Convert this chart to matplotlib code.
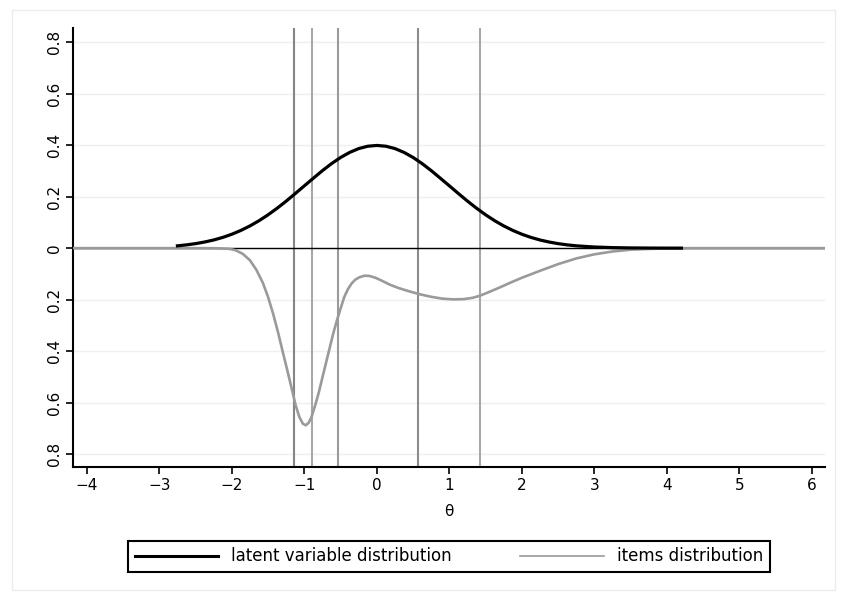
import matplotlib.pyplot as plt
from matplotlib.lines import Line2D
from matplotlib.patches import Rectangle

plt.rcParams['font.family'] = ['DejaVu Sans']

# latent variable density (standard normal shape)
latent_x = [-2.75, -2.625, -2.5, -2.375, -2.25, -2.125, -2.0, -1.875, -1.75, -1.625, -1.5,
            -1.375, -1.25, -1.125, -1.0, -0.875, -0.75, -0.625, -0.5, -0.375, -0.25, -0.125,
            0.0, 0.125, 0.25, 0.375, 0.5, 0.625, 0.75, 0.875, 1.0, 1.125, 1.25, 1.375, 1.5,
            1.625, 1.75, 1.875, 2.0, 2.125, 2.25, 2.375, 2.5, 2.625, 2.75, 3.0, 3.25, 3.5,
            3.75, 4.0, 4.2]
latent_y = [0.009, 0.0127, 0.0175, 0.0238, 0.0317, 0.0417, 0.054, 0.0688, 0.0863, 0.1065, 0.1295,
            0.155, 0.1826, 0.212, 0.242, 0.2717, 0.3011, 0.3282, 0.3521, 0.3718, 0.3867, 0.3958,
            0.3989, 0.3958, 0.3867, 0.3718, 0.3521, 0.3282, 0.3011, 0.2717, 0.242, 0.212, 0.1826,
            0.155, 0.1295, 0.1065, 0.0863, 0.0688, 0.054, 0.0417, 0.0317, 0.0238, 0.0175, 0.0127,
            0.009, 0.0044, 0.002, 0.0009, 0.0004, 0.0001, 0.0]

# items distribution, plotted downwards
items_x = [-4.2, -2.5, -2.2, -2.03, -1.95, -1.85, -1.75, -1.66, -1.57, -1.5, -1.43, -1.36,
           -1.3, -1.23, -1.17, -1.12, -1.07, -1.02, -0.98, -0.94, -0.9, -0.85, -0.8, -0.74,
           -0.67, -0.6, -0.55, -0.5, -0.45, -0.4, -0.35, -0.3, -0.24, -0.17, -0.1, -0.02,
           0.08, 0.18, 0.3, 0.45, 0.59, 0.75, 0.9, 1.05, 1.2, 1.32, 1.42, 1.55, 1.7, 1.85,
           2.0, 2.25, 2.5, 2.75, 3.0, 3.25, 3.5, 3.75, 4.0, 4.3, 6.2]
items_y = [0.0, 0.0, -0.0005, -0.003, -0.008, -0.022, -0.047, -0.085, -0.136, -0.19, -0.255, -0.33,
           -0.4, -0.48, -0.55, -0.61, -0.655, -0.682, -0.688, -0.678, -0.655, -0.61, -0.56, -0.49,
           -0.41, -0.33, -0.28, -0.235, -0.19, -0.16, -0.138, -0.123, -0.113, -0.107, -0.108, -0.115,
           -0.128, -0.142, -0.155, -0.168, -0.179, -0.189, -0.196, -0.199, -0.198, -0.193, -0.185,
           -0.17, -0.152, -0.133, -0.115, -0.088, -0.062, -0.04, -0.024, -0.013, -0.006, -0.003,
           -0.001, 0.0, 0.0]

# item thresholds
cut_x = [-1.145, -0.9, -0.54, 0.566, 1.42]
cut_colors = ['#858585', '#a8a8a8', '#9a9a9a', '#8c8c8c', '#a8a8a8']

y_ticks = [-0.8, -0.6, -0.4, -0.2, 0.0, 0.2, 0.4, 0.6, 0.8]
y_labels = ['0.8', '0.6', '0.4', '0.2', '0', '0.2', '0.4', '0.6', '0.8']
x_ticks = [-4, -3, -2, -1, 0, 1, 2, 3, 4, 5, 6]

fig = plt.figure(figsize=(8.43, 5.97), dpi=100)
fig.patches.append(Rectangle((12 / 843, 7 / 597), 823 / 843, 580 / 597,
                             transform=fig.transFigure, fill=False,
                             edgecolor='#ececec', linewidth=1.0))
ax = fig.add_axes([73 / 843, 1 - 467 / 597, (825 - 73) / 843, (467 - 28) / 597])

ax.set_xlim(-4.19, 6.18)
ax.set_ylim(-0.85, 0.855)

for v in y_ticks:
    ax.axhline(v, color='#efefef', linewidth=1.0, zorder=0)

for xv, c in zip(cut_x, cut_colors):
    ax.axvline(xv, color=c, linewidth=1.5, zorder=1)

ax.axhline(0, color='black', linewidth=1.0, zorder=2)
ax.plot(items_x, items_y, color='#9a9a9a', linewidth=1.9, zorder=3)
ax.plot(latent_x, latent_y, color='black', linewidth=2.3, zorder=4)

for s in ['top', 'right']:
    ax.spines[s].set_visible(False)
ax.spines['left'].set_linewidth(1.5)
ax.spines['bottom'].set_linewidth(1.5)

ax.set_xticks(x_ticks)
ax.set_yticks(y_ticks)
ax.set_yticklabels(y_labels, rotation=90, va='center')
ax.tick_params(axis='both', direction='out', length=5, width=1.2, labelsize=11)
ax.tick_params(axis='x', pad=3)
ax.tick_params(axis='y', pad=3)

fig.text(449 / 843, 1 - 512 / 597, 'θ', ha='center', va='center', fontsize=11)

handles = [Line2D([], [], color='black', linewidth=2.2),
           Line2D([], [], color='#9a9a9a', linewidth=1.2)]
leg = fig.legend(handles, ['latent variable distribution', 'items distribution'],
                 loc='lower left', ncol=2, mode='expand',
                 bbox_to_anchor=(128 / 843, 1 - 572 / 597, (770 - 128) / 843, 39 / 597),
                 fontsize=12, handlelength=5.0, handletextpad=0.8, borderaxespad=0,
                 fancybox=False, framealpha=1)
leg.get_frame().set_edgecolor('black')
leg.get_frame().set_linewidth(1.5)

fig.savefig('out.png', dpi=100, facecolor='white')
